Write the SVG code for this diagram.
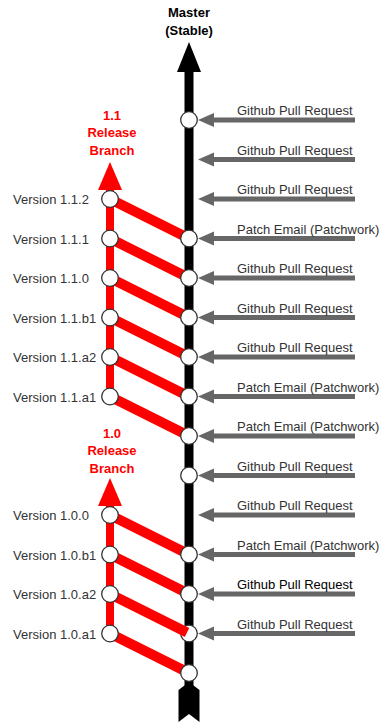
<svg xmlns="http://www.w3.org/2000/svg" width="380" height="726" viewBox="0 0 380 726">
<style>
text{font-family:"Liberation Sans",Arial,sans-serif;font-size:13px}
.lbl{fill:#333}
.hd{font-weight:bold;text-anchor:middle}
.red{fill:#ff0000}
.in{stroke:#666;stroke-width:5;fill:none;marker-end:url(#ah)}
.diag{stroke:#ff0000;stroke-width:10;fill:none}
.node{fill:#fff;stroke:#333;stroke-width:1.3}
</style>
<defs>
<marker id="ah" markerUnits="userSpaceOnUse" markerWidth="18" markerHeight="16" refX="0" refY="7" orient="auto" viewBox="0 0 18 16">
<path d="M0,0 L16,7 L0,14 z" fill="#666"/>
</marker>
</defs>
<rect width="380" height="726" fill="#fff"/>

<g id="master">
<line x1="189" y1="70" x2="189" y2="690" stroke="#000" stroke-width="9"/>
<polygon points="189,42 201,72 177,72" fill="#000"/>
<polygon points="178.5,690 189,682 199.5,690 199.5,722 189,714 178.5,722" fill="#000"/>
<text class="hd" x="189" y="17" fill="#000">Master</text>
<text class="hd" x="189" y="35" fill="#000">(Stable)</text>
</g>

<g id="connectors">
<line class="in" x1="355" y1="120" x2="214" y2="120"/>
<line class="in" x1="355" y1="159.5" x2="214" y2="159.5"/>
<line class="in" x1="355" y1="199" x2="214" y2="199"/>
<line class="in" x1="355" y1="238.5" x2="214" y2="238.5"/>
<line class="in" x1="355" y1="278" x2="214" y2="278"/>
<line class="in" x1="355" y1="317.5" x2="214" y2="317.5"/>
<line class="in" x1="355" y1="357" x2="214" y2="357"/>
<line class="in" x1="355" y1="396.5" x2="214" y2="396.5"/>
<line class="in" x1="355" y1="436" x2="214" y2="436"/>
<line class="in" x1="355" y1="475.5" x2="214" y2="475.5"/>
<line class="in" x1="355" y1="515" x2="214" y2="515"/>
<line class="in" x1="355" y1="554.5" x2="214" y2="554.5"/>
<line class="in" x1="355" y1="594" x2="214" y2="594"/>
<line class="in" x1="355" y1="633.5" x2="214" y2="633.5"/>
<line class="diag" x1="110" y1="199" x2="189" y2="238.5"/>
<line class="diag" x1="110" y1="238.5" x2="189" y2="278"/>
<line class="diag" x1="110" y1="278" x2="189" y2="317.5"/>
<line class="diag" x1="110" y1="317.5" x2="189" y2="357"/>
<line class="diag" x1="110" y1="357" x2="189" y2="396.5"/>
<line class="diag" x1="110" y1="396.5" x2="189" y2="436"/>
<line class="diag" x1="110" y1="515" x2="189" y2="554.5"/>
<line class="diag" x1="110" y1="554.5" x2="189" y2="594"/>
<line class="diag" x1="110" y1="633.5" x2="189" y2="673"/>
</g>

<g id="branch-1-1">
<line x1="110" y1="188" x2="110" y2="396.5" stroke="#ff0000" stroke-width="8"/>
<polygon points="110,162 122,190 98,190" fill="#ff0000"/>
<text class="hd red" x="112" y="120">1.1</text>
<text class="hd red" x="112" y="137">Release</text>
<text class="hd red" x="112" y="155">Branch</text>
</g>

<g id="branch-1-0">
<line x1="110" y1="504" x2="110" y2="633.5" stroke="#ff0000" stroke-width="8"/>
<polygon points="110,478 122,506 98,506" fill="#ff0000"/>
<text class="hd red" x="112" y="438">1.0</text>
<text class="hd red" x="112" y="455">Release</text>
<text class="hd red" x="112" y="473">Branch</text>
</g>

<g id="master-commits">
<circle class="node" cx="189" cy="120" r="8.3"/>
<circle class="node" cx="189" cy="238.5" r="8.3"/>
<circle class="node" cx="189" cy="278" r="8.3"/>
<circle class="node" cx="189" cy="317.5" r="8.3"/>
<circle class="node" cx="189" cy="357" r="8.3"/>
<circle class="node" cx="189" cy="396.5" r="8.3"/>
<circle class="node" cx="189" cy="436" r="8.3"/>
<circle class="node" cx="189" cy="475.5" r="8.3"/>
<circle class="node" cx="189" cy="554.5" r="8.3"/>
<circle class="node" cx="189" cy="594" r="8.3"/>
<circle class="node" cx="189" cy="633.5" r="8.3"/>
<circle class="node" cx="189" cy="673" r="8.3"/>
</g>

<line class="diag" x1="110" y1="594" x2="187" y2="632.5"/>

<g id="versions">
<circle class="node" cx="110" cy="199" r="8.3"/>
<circle class="node" cx="110" cy="238.5" r="8.3"/>
<circle class="node" cx="110" cy="278" r="8.3"/>
<circle class="node" cx="110" cy="317.5" r="8.3"/>
<circle class="node" cx="110" cy="357" r="8.3"/>
<circle class="node" cx="110" cy="396.5" r="8.3"/>
<circle class="node" cx="110" cy="515" r="8.3"/>
<circle class="node" cx="110" cy="554.5" r="8.3"/>
<circle class="node" cx="110" cy="594" r="8.3"/>
<circle class="node" cx="110" cy="633.5" r="8.3"/>
<text class="lbl" x="13" y="204">Version 1.1.2</text>
<text class="lbl" x="13" y="243.5">Version 1.1.1</text>
<text class="lbl" x="13" y="283">Version 1.1.0</text>
<text class="lbl" x="13" y="322.5">Version 1.1.b1</text>
<text class="lbl" x="13" y="362">Version 1.1.a2</text>
<text class="lbl" x="13" y="401.5">Version 1.1.a1</text>
<text class="lbl" x="13" y="520">Version 1.0.0</text>
<text class="lbl" x="13" y="559.5">Version 1.0.b1</text>
<text class="lbl" x="13" y="599">Version 1.0.a2</text>
<text class="lbl" x="13" y="638.5">Version 1.0.a1</text>
</g>

<g id="sources">
<text class="lbl" x="237" y="115">Github Pull Request</text>
<text class="lbl" x="237" y="154.5">Github Pull Request</text>
<text class="lbl" x="237" y="194">Github Pull Request</text>
<text class="lbl" x="237" y="233.5">Patch Email (Patchwork)</text>
<text class="lbl" x="237" y="273">Github Pull Request</text>
<text class="lbl" x="237" y="312.5">Github Pull Request</text>
<text class="lbl" x="237" y="352">Github Pull Request</text>
<text class="lbl" x="237" y="391.5">Patch Email (Patchwork)</text>
<text class="lbl" x="237" y="431">Patch Email (Patchwork)</text>
<text class="lbl" x="237" y="470.5">Github Pull Request</text>
<text class="lbl" x="237" y="510">Github Pull Request</text>
<text class="lbl" x="237" y="549.5">Patch Email (Patchwork)</text>
<text class="lbl" x="237" y="589" fill="#000" style="fill:#000">Github Pull Request</text>
<text class="lbl" x="237" y="628.5">Github Pull Request</text>
</g>
</svg>
